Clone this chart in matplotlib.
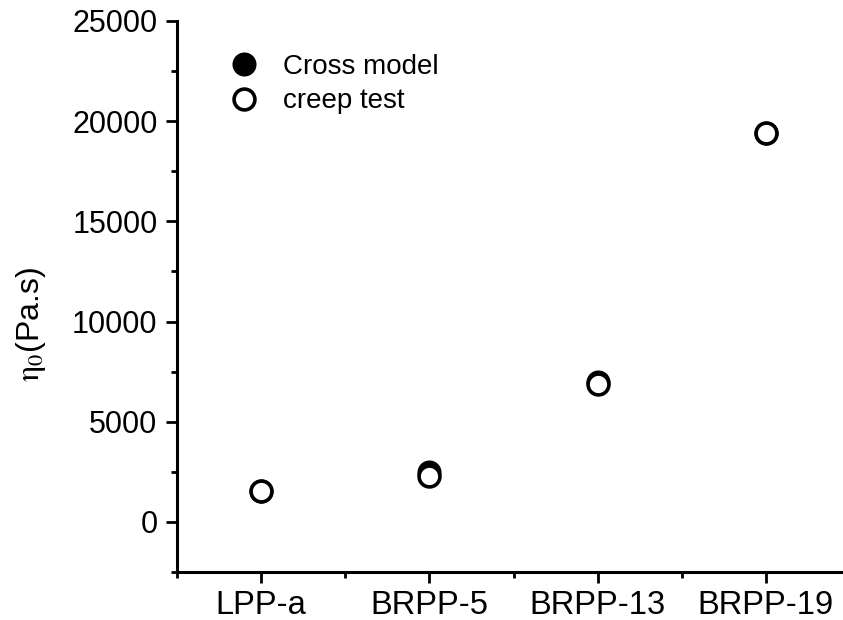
import numpy as np
import matplotlib
matplotlib.use('Agg')
import matplotlib.pyplot as plt
from matplotlib.ticker import MultipleLocator

plt.rcParams['font.family'] = ['Liberation Sans', 'DejaVu Sans']
plt.rcParams['mathtext.fontset'] = 'stix'

# zero-shear viscosity per sample
samples = ['LPP-a', 'BRPP-5', 'BRPP-13', 'BRPP-19']
eta_cross = [1530, 2500, 6980, 19400]   # Cross model fit
eta_creep = [1530, 2300, 6870, 19400]   # creep test

x = np.arange(1, len(samples) + 1)

fig = plt.figure(figsize=(8.43, 6.20), dpi=100)
ax = fig.add_axes([177/843, 48/620, 673/843, 551/620])

ax.plot(x, eta_cross, 'o', ms=15, mfc='black', mec='black', mew=2.3,
        ls='none', label='Cross model')
ax.plot(x, eta_creep, 'o', ms=15, mfc='white', mec='black', mew=2.6,
        ls='none', label='creep test')

ax.set_xlim(0.5, 4.5)
ax.set_ylim(-2500, 25000)
ax.set_xticks(x)
ax.set_xticklabels(samples)
ax.xaxis.set_minor_locator(MultipleLocator(0.5))
ax.yaxis.set_major_locator(MultipleLocator(5000))
ax.yaxis.set_minor_locator(MultipleLocator(2500))

for side in ['top', 'right']:
    ax.spines[side].set_visible(False)
for side in ['left', 'bottom']:
    ax.spines[side].set_linewidth(2.2)

ax.tick_params(which='major', length=8, width=2, pad=6)
ax.tick_params(which='minor', length=4, width=2)
ax.tick_params(axis='y', labelsize=22)
ax.tick_params(axis='x', which='minor', length=4)
ax.tick_params(axis='x', which='major', pad=5, labelsize=23.5)

ax.set_ylabel(r'$\mathrm{\eta}_0$(Pa.s)', fontsize=23)
ax.yaxis.set_label_coords(-0.192, 0.45)

ax.legend(loc='upper left', bbox_to_anchor=(0.062, 0.96), frameon=False,
          fontsize=20, handletextpad=0.9, labelspacing=0.3,
          borderaxespad=0, handlelength=1.0)

plt.savefig('out.png', dpi=100)
